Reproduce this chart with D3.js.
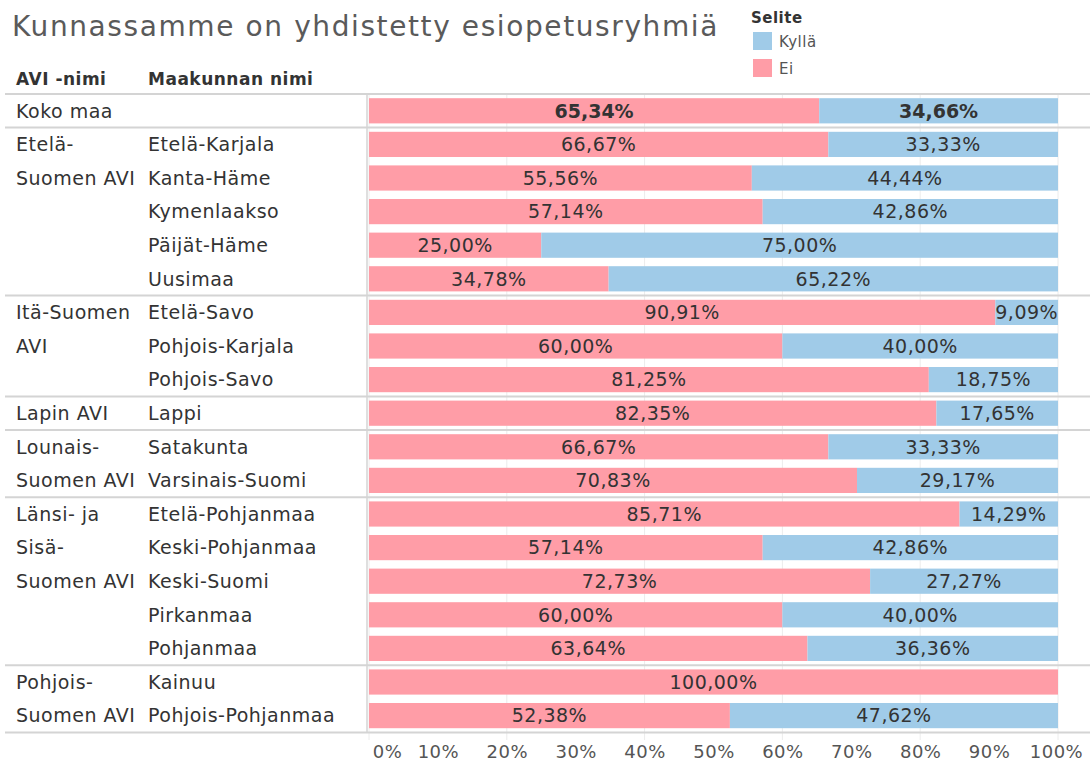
<!DOCTYPE html>
<html>
<head>
<meta charset="utf-8">
<script src="https://cdn.jsdelivr.net/npm/d3@7"></script>
<style>
  body { margin: 0; background: #fff; }
  svg text { font-family: "DejaVu Sans", sans-serif; letter-spacing: 0.5px; }
</style>
</head>
<body>
<svg id="chart"></svg>
<script>
// rows, top to bottom
const provinces = ["Koko maa", "Etelä-Karjala", "Kanta-Häme", "Kymenlaakso", "Päijät-Häme", "Uusimaa",
  "Etelä-Savo", "Pohjois-Karjala", "Pohjois-Savo", "Lappi", "Satakunta", "Varsinais-Suomi",
  "Etelä-Pohjanmaa", "Keski-Pohjanmaa", "Keski-Suomi", "Pirkanmaa", "Pohjanmaa",
  "Kainuu", "Pohjois-Pohjanmaa"];
const eiValues = [65.34, 66.67, 55.56, 57.14, 25.00, 34.78, 90.91, 60.00, 81.25, 82.35, 66.67, 70.83,
  85.71, 57.14, 72.73, 60.00, 63.64, 100.00, 52.38];
const kyllaValues = [34.66, 33.33, 44.44, 42.86, 75.00, 65.22, 9.09, 40.00, 18.75, 17.65, 33.33, 29.17,
  14.29, 42.86, 27.27, 40.00, 36.36, 0, 47.62];

// AVI groups: name lines + how many rows they cover
const aviNames = [["Koko maa"], ["Etelä-", "Suomen AVI"], ["Itä-Suomen", "AVI"], ["Lapin AVI"],
  ["Lounais-", "Suomen AVI"], ["Länsi- ja", "Sisä-", "Suomen AVI"], ["Pohjois-", "Suomen AVI"]];
const aviSizes = [1, 5, 3, 1, 2, 5, 2];

const tickValues = [0, 10, 20, 30, 40, 50, 60, 70, 80, 90, 100];
const gridValues = [0, 20, 40, 60, 80, 100];

const legendLabels = ["Kyllä", "Ei"];
const colors = {"Kyllä": "#a0cbe8", "Ei": "#ff9da7"};

const width = 1090, height = 771;
const svg = d3.select("#chart").attr("width", width).attr("height", height);

const x = d3.scaleLinear().domain([0, 100]).range([369, 1058]);
const y = d3.scaleBand().domain(provinces).range([94, 732.4]).paddingInner(0.25).paddingOuter(0.125);
const step = y.step();
const rowTop = i => 94 + i * step;

// title
svg.append("text")
  .attr("x", 12).attr("y", 36)
  .attr("font-size", 28).attr("fill", "#5a5a5a")
  .style("letter-spacing", "1.6px")
  .text("Kunnassamme on yhdistetty esiopetusryhmiä");

// legend
svg.append("text").attr("x", 751).attr("y", 23)
  .attr("font-size", 15).attr("font-weight", "bold").attr("fill", "#333").text("Selite");
const lg = svg.selectAll(".leg").data(legendLabels).join("g")
  .attr("class", "leg")
  .attr("transform", (d, i) => `translate(753,${32 + i * 27})`);
lg.append("rect").attr("width", 19).attr("height", 18).attr("fill", d => colors[d]);
lg.append("text").attr("x", 26).attr("y", 15).attr("font-size", 15).attr("fill", "#555").text(d => d);

// column headers
svg.append("text").attr("x", 16).attr("y", 85).attr("font-size", 17).attr("font-weight", "bold")
  .attr("fill", "#333").text("AVI -nimi");
svg.append("text").attr("x", 148).attr("y", 85).attr("font-size", 17).attr("font-weight", "bold")
  .attr("fill", "#333").text("Maakunnan nimi");

// gridlines
svg.selectAll(".grid").data(gridValues).join("line")
  .attr("class", "grid")
  .attr("x1", d => x(d)).attr("x2", d => x(d))
  .attr("y1", 94).attr("y2", 740)
  .attr("stroke", "#ececec").attr("stroke-width", 1);

// bars
const rows = provinces.map((p, i) => ({name: p, ei: eiValues[i], kylla: kyllaValues[i], bold: i === 0}));
const segs = [];
rows.forEach(r => {
  segs.push({name: r.name, key: "Ei", x0: 0, x1: r.ei, v: r.ei, bold: r.bold});
  if (r.kylla > 0) segs.push({name: r.name, key: "Kyllä", x0: r.ei, x1: 100, v: r.kylla, bold: r.bold});
});

svg.selectAll(".bar").data(segs).join("rect")
  .attr("class", "bar")
  .attr("x", d => x(d.x0))
  .attr("width", d => x(d.x1) - x(d.x0))
  .attr("y", d => y(d.name))
  .attr("height", y.bandwidth())
  .attr("fill", d => colors[d.key]);

svg.selectAll(".lbl").data(segs).join("text")
  .attr("class", "lbl")
  .attr("x", d => (x(d.x0) + x(d.x1)) / 2)
  .attr("y", d => y(d.name) + y.bandwidth() / 2)
  .attr("dy", "0.36em")
  .attr("text-anchor", "middle")
  .attr("font-size", 19)
  .attr("font-weight", d => d.bold ? "bold" : "normal")
  .attr("fill", "#333")
  .style("letter-spacing", d => d.bold ? "0px" : "0.5px")
  .text(d => d.v.toFixed(2).replace(".", ",") + "%");

// province labels
svg.selectAll(".prov").data(provinces.slice(1)).join("text")
  .attr("class", "prov")
  .attr("x", 148)
  .attr("y", d => y(d) + y.bandwidth() / 2)
  .attr("dy", "0.36em")
  .attr("font-size", 19).attr("fill", "#333")
  .text(d => d);

// AVI group labels and separators
let start = 0;
const groupStarts = aviSizes.map(s => { const v = start; start += s; return v; });
aviNames.forEach((lines, g) => {
  lines.forEach((ln, j) => {
    svg.append("text")
      .attr("x", 16)
      .attr("y", rowTop(groupStarts[g] + j) + step / 2)
      .attr("dy", "0.36em")
      .attr("font-size", 19).attr("fill", "#333")
      .text(ln);
  });
});
const sepRows = groupStarts.concat([provinces.length]);
svg.selectAll(".sep").data(sepRows).join("line")
  .attr("class", "sep")
  .attr("x1", 5).attr("x2", width)
  .attr("y1", d => rowTop(d)).attr("y2", d => rowTop(d))
  .attr("stroke", "#d4d4d4").attr("stroke-width", 2);

// pane divider
svg.append("line")
  .attr("x1", 367).attr("x2", 367).attr("y1", 94).attr("y2", 733)
  .attr("stroke", "#d4d4d4").attr("stroke-width", 1.5);

// x axis
const axis = d3.axisBottom(x).tickValues(tickValues).tickSize(0).tickPadding(0)
  .tickFormat(d => d + "%");
const ax = svg.append("g").attr("transform", "translate(0,752)").call(axis);
ax.select(".domain").remove();
ax.selectAll("text")
  .attr("font-size", 18).attr("fill", "#555")
  .attr("font-family", "DejaVu Sans, sans-serif")
  .attr("dy", "0.36em")
  .attr("dx", d => d === 0 ? 18 : (d === 100 ? -2 : 0));
</script>
</body>
</html>
